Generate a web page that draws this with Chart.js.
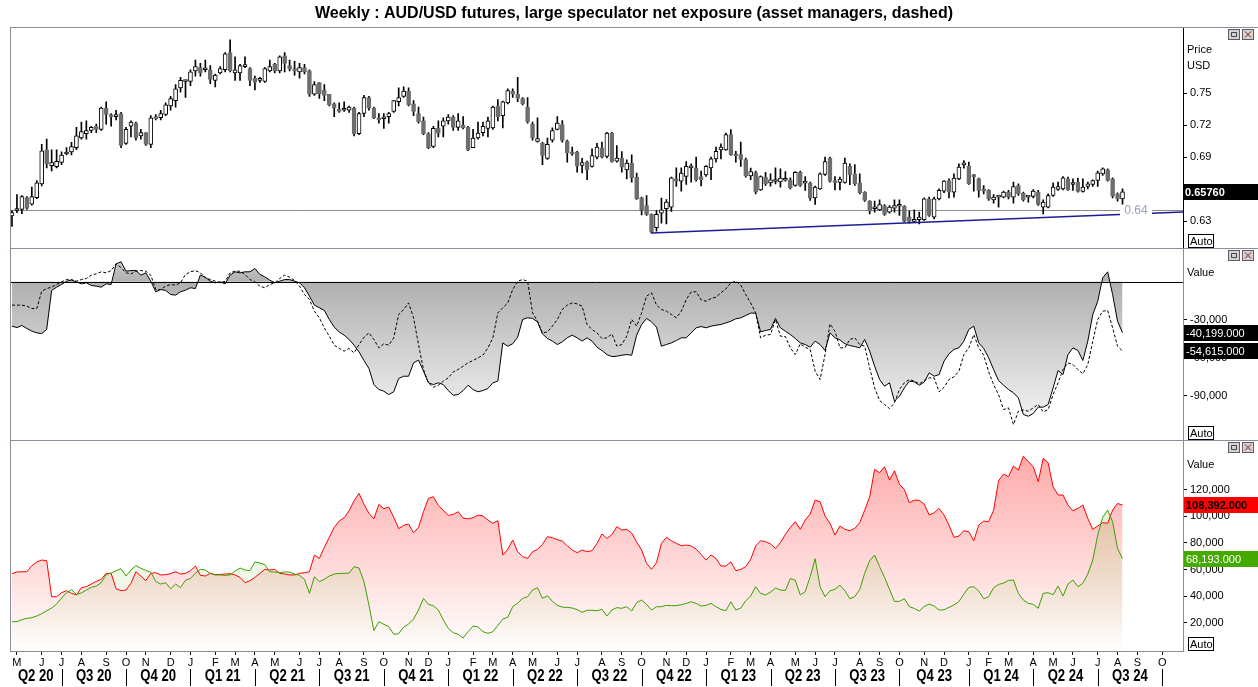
<!DOCTYPE html>
<html>
<head>
<meta charset="utf-8">
<title>AUD/USD weekly - speculator exposure</title>
<script src="https://cdn.jsdelivr.net/npm/chart.js@4.4.1/dist/chart.umd.min.js"></script>
<style>
  html, body { margin: 0; padding: 0; background: #fff; }
  #wrap { position: relative; width: 1258px; height: 687px; }
</style>
</head>
<body>
<div id="wrap"><canvas id="chart" width="1258" height="687"></canvas></div>
<script>
// Weekly bars, first bar = week of 20 Apr 2020, last = week of 5 Aug 2024.
const priceOpen = [
  0.635, 0.640, 0.641, 0.652, 0.646, 0.652, 0.665, 0.697, 0.682, 0.681, 0.685, 0.693, 0.695, 0.699, 0.708,
  0.712, 0.715, 0.719, 0.716, 0.736, 0.729, 0.728, 0.731, 0.703, 0.719, 0.722, 0.710, 0.713, 0.702, 0.728,
  0.727, 0.730, 0.738, 0.743, 0.755, 0.761, 0.761, 0.771, 0.774, 0.772, 0.772, 0.762, 0.769, 0.772, 0.788,
  0.769, 0.769, 0.775, 0.773, 0.764, 0.762, 0.761, 0.771, 0.777, 0.771, 0.785, 0.776, 0.773, 0.770, 0.774,
  0.771, 0.749, 0.760, 0.753, 0.749, 0.740, 0.735, 0.734, 0.734, 0.736, 0.712, 0.731, 0.746, 0.736, 0.727,
  0.726, 0.728, 0.733, 0.742, 0.747, 0.752, 0.740, 0.731, 0.724, 0.712, 0.700, 0.717, 0.719, 0.724, 0.7275,
  0.718, 0.720, 0.718, 0.699, 0.708, 0.713, 0.717, 0.7175, 0.738, 0.729, 0.741, 0.752, 0.749, 0.745, 0.737,
  0.721, 0.7047, 0.703, 0.6888, 0.706, 0.716, 0.7206, 0.705, 0.6944, 0.6947, 0.6822, 0.6853, 0.6813, 0.690, 0.6988,
  0.6906, 0.7125, 0.6863, 0.6891, 0.6781, 0.6844, 0.6713, 0.6519, 0.6447, 0.6363, 0.6238, 0.6375, 0.6416, 0.6431, 0.6697,
  0.6675, 0.6719, 0.680, 0.6797, 0.6719, 0.6734, 0.680, 0.6884, 0.6969, 0.6969, 0.7113, 0.6931, 0.6925, 0.6878, 0.6725,
  0.6756, 0.6594, 0.6713, 0.6659, 0.6672, 0.6669, 0.6684, 0.6688, 0.6634, 0.6759, 0.6656, 0.6656, 0.6519, 0.6603, 0.6738,
  0.6891, 0.6681, 0.6663, 0.6663, 0.6813, 0.6744, 0.6659, 0.6572, 0.6488, 0.6416, 0.6406, 0.6447, 0.6384, 0.6422, 0.644,
  0.6438, 0.6338, 0.6297, 0.6313, 0.6313, 0.6509, 0.6338, 0.6509, 0.6581, 0.6681, 0.6572, 0.6697, 0.6828, 0.6813, 0.6722,
  0.6697, 0.6603, 0.6588, 0.650, 0.6525, 0.6525, 0.6572, 0.6525, 0.6634, 0.6563, 0.6525, 0.6531, 0.6572, 0.6431, 0.6431,
  0.6541, 0.6597, 0.6603, 0.6697, 0.6644, 0.6666, 0.6578, 0.6625, 0.6644, 0.6681, 0.6744, 0.6781, 0.6697, 0.6556, 0.6509
];
const priceHigh = [
  0.640, 0.655, 0.654, 0.653, 0.662, 0.668, 0.702, 0.707, 0.697, 0.697, 0.695, 0.699, 0.704, 0.718, 0.723,
  0.724, 0.719, 0.721, 0.737, 0.742, 0.731, 0.734, 0.732, 0.718, 0.724, 0.723, 0.716, 0.713, 0.729, 0.730,
  0.734, 0.741, 0.747, 0.758, 0.765, 0.762, 0.772, 0.781, 0.778, 0.781, 0.776, 0.768, 0.775, 0.788, 0.800,
  0.784, 0.777, 0.784, 0.774, 0.766, 0.765, 0.774, 0.781, 0.778, 0.785, 0.788, 0.781, 0.780, 0.778, 0.777,
  0.772, 0.761, 0.760, 0.758, 0.749, 0.741, 0.741, 0.742, 0.738, 0.737, 0.732, 0.748, 0.747, 0.737, 0.731,
  0.731, 0.732, 0.743, 0.755, 0.756, 0.755, 0.743, 0.737, 0.7275, 0.713, 0.719, 0.724, 0.727, 0.730, 0.729,
  0.731, 0.728, 0.719, 0.716, 0.723, 0.723, 0.7275, 0.738, 0.744, 0.7425, 0.754, 0.754, 0.765, 0.746, 0.746,
  0.723, 0.727, 0.704, 0.708, 0.7175, 0.728, 0.7244, 0.706, 0.6994, 0.6956, 0.689, 0.6863, 0.6978, 0.7031, 0.7041,
  0.7134, 0.7134, 0.7009, 0.6953, 0.6875, 0.6922, 0.675, 0.6525, 0.6541, 0.6369, 0.640, 0.6516, 0.6503, 0.6713, 0.680,
  0.680, 0.6859, 0.6838, 0.690, 0.6769, 0.6822, 0.690, 0.6994, 0.7025, 0.7125, 0.7159, 0.6956, 0.7041, 0.6891, 0.6797,
  0.6769, 0.6725, 0.6759, 0.6744, 0.680, 0.6791, 0.6766, 0.6706, 0.6766, 0.6769, 0.6719, 0.6666, 0.6628, 0.6753, 0.690,
  0.690, 0.6719, 0.6713, 0.6891, 0.6838, 0.6831, 0.6744, 0.6578, 0.6494, 0.6488, 0.650, 0.6456, 0.6447, 0.650, 0.650,
  0.6447, 0.6394, 0.6406, 0.6384, 0.6519, 0.6525, 0.6525, 0.6603, 0.6681, 0.6697, 0.6744, 0.6838, 0.6869, 0.6853, 0.6738,
  0.6703, 0.6634, 0.6597, 0.655, 0.6541, 0.6581, 0.6588, 0.6666, 0.665, 0.6572, 0.6541, 0.6597, 0.6588, 0.650, 0.6556,
  0.6659, 0.6666, 0.6719, 0.6713, 0.6697, 0.6703, 0.6697, 0.6666, 0.6688, 0.6769, 0.680, 0.6791, 0.6706, 0.6566, 0.6603
];
const priceLow = [
  0.625, 0.638, 0.637, 0.641, 0.645, 0.651, 0.663, 0.680, 0.677, 0.680, 0.683, 0.692, 0.692, 0.697, 0.707,
  0.707, 0.713, 0.713, 0.715, 0.721, 0.719, 0.725, 0.699, 0.702, 0.709, 0.706, 0.707, 0.701, 0.699, 0.725,
  0.725, 0.729, 0.734, 0.737, 0.751, 0.746, 0.757, 0.766, 0.766, 0.770, 0.759, 0.756, 0.768, 0.770, 0.770,
  0.762, 0.762, 0.774, 0.757, 0.753, 0.760, 0.760, 0.770, 0.769, 0.769, 0.770, 0.771, 0.767, 0.764, 0.768,
  0.747, 0.748, 0.745, 0.743, 0.738, 0.728, 0.732, 0.733, 0.732, 0.710, 0.711, 0.728, 0.734, 0.726, 0.722,
  0.717, 0.722, 0.732, 0.738, 0.746, 0.738, 0.729, 0.722, 0.711, 0.698, 0.699, 0.709, 0.709, 0.721, 0.715,
  0.715, 0.7165, 0.696, 0.6988, 0.707, 0.710, 0.709, 0.716, 0.724, 0.7175, 0.740, 0.746, 0.742, 0.739, 0.722,
  0.706, 0.704, 0.683, 0.6878, 0.704, 0.7156, 0.704, 0.6853, 0.6916, 0.676, 0.6753, 0.6688, 0.6806, 0.6884, 0.6894,
  0.6894, 0.6853, 0.6853, 0.676, 0.6697, 0.6666, 0.6503, 0.6359, 0.6353, 0.6188, 0.6206, 0.6281, 0.6275, 0.6391, 0.6625,
  0.6581, 0.6644, 0.6666, 0.6675, 0.6631, 0.6719, 0.6688, 0.6853, 0.6884, 0.6963, 0.6916, 0.6853, 0.6813, 0.6713, 0.6688,
  0.6556, 0.6588, 0.6634, 0.6628, 0.665, 0.6619, 0.6675, 0.6603, 0.6628, 0.6625, 0.6588, 0.6494, 0.6456, 0.6597, 0.6728,
  0.6666, 0.6594, 0.6594, 0.6656, 0.6641, 0.6634, 0.6556, 0.6484, 0.6369, 0.6384, 0.640, 0.6353, 0.6375, 0.6384, 0.6353,
  0.6291, 0.6281, 0.6291, 0.6275, 0.6306, 0.6344, 0.6322, 0.650, 0.6566, 0.6519, 0.6525, 0.6688, 0.6797, 0.6644, 0.6581,
  0.6525, 0.6556, 0.6494, 0.6469, 0.6431, 0.6519, 0.6509, 0.6469, 0.6541, 0.6488, 0.6478, 0.6519, 0.6447, 0.6369, 0.6425,
  0.6531, 0.6588, 0.6594, 0.6588, 0.6588, 0.6572, 0.6572, 0.6603, 0.6625, 0.6625, 0.6728, 0.6675, 0.6519, 0.6488, 0.6353
];
const priceClose = [
  0.638, 0.641, 0.653, 0.642, 0.653, 0.666, 0.696, 0.684, 0.685, 0.686, 0.692, 0.694, 0.700, 0.710, 0.714,
  0.715, 0.718, 0.716, 0.736, 0.730, 0.728, 0.730, 0.701, 0.716, 0.723, 0.708, 0.713, 0.702, 0.727, 0.726,
  0.731, 0.739, 0.745, 0.754, 0.762, 0.7615, 0.770, 0.775, 0.769, 0.7725, 0.763, 0.767, 0.773, 0.787, 0.771,
  0.772, 0.776, 0.7755, 0.762, 0.760, 0.763, 0.773, 0.775, 0.771, 0.784, 0.778, 0.773, 0.771, 0.774, 0.770,
  0.749, 0.758, 0.749, 0.748, 0.739, 0.736, 0.733, 0.7345, 0.737, 0.712, 0.731, 0.746, 0.736, 0.727, 0.725,
  0.7275, 0.731, 0.743, 0.746, 0.752, 0.739, 0.733, 0.723, 0.712, 0.699, 0.717, 0.7125, 0.724, 0.7275, 0.718,
  0.724, 0.7175, 0.697, 0.708, 0.7125, 0.719, 0.724, 0.737, 0.728, 0.742, 0.7525, 0.749, 0.745, 0.740, 0.723,
  0.708, 0.7075, 0.6916, 0.702, 0.715, 0.722, 0.7056, 0.694, 0.6931, 0.6816, 0.685, 0.6781, 0.6916, 0.6994, 0.690,
  0.7125, 0.6859, 0.6891, 0.6806, 0.6844, 0.6706, 0.6509, 0.640, 0.6363, 0.6197, 0.6363, 0.6406, 0.6478, 0.6706, 0.6675,
  0.675, 0.6813, 0.6805, 0.6688, 0.6688, 0.6813, 0.6884, 0.6956, 0.6994, 0.7113, 0.6922, 0.6913, 0.6878, 0.6725, 0.6766,
  0.6572, 0.6719, 0.665, 0.6688, 0.6677, 0.6703, 0.6688, 0.6613, 0.6759, 0.6634, 0.6661, 0.6516, 0.6619, 0.6744, 0.6859,
  0.6675, 0.6659, 0.6694, 0.6844, 0.6734, 0.665, 0.6566, 0.6494, 0.6394, 0.6421, 0.6456, 0.6363, 0.6431, 0.6447, 0.6445,
  0.6297, 0.6297, 0.6316, 0.6338, 0.6509, 0.6353, 0.6509, 0.6588, 0.6675, 0.6572, 0.6703, 0.6806, 0.6832, 0.665, 0.6718,
  0.6588, 0.6581, 0.6509, 0.6525, 0.653, 0.6572, 0.6525, 0.6625, 0.6556, 0.650, 0.653, 0.6581, 0.6456, 0.6478, 0.6541,
  0.6619, 0.6625, 0.6706, 0.6594, 0.6649, 0.6578, 0.6619, 0.665, 0.6681, 0.6753, 0.6791, 0.6681, 0.6534, 0.6509, 0.6576
];

// Net exposure, thousands of contracts
const netLargeSpec = [
  -35.0, -36.1, -34.5, -36.8, -38.9, -40.3, -40.8, -37.6, -6.8, -4.2, -2.1, 0.5, 1.3, 0, -1.6,
  -0.8, -2.9, -3.4, -4.2, -1.6, -2.1, 14.2, 15.8, 8.4, 8.9, 8.9, 5.3, 7.1, 0.5, -7.9,
  -6.1, -6.8, -10.0, -10.5, -7.9, -6.6, -4.7, -5.3, 5.3, 3.7, 0.5, -0.8, 0, -1.6, 5.3,
  7.9, 7.1, 7.9, 7.9, 10.5, 5.8, 3.9, 1.3, -0.8, 0.5, 1.8, 1.8, 0.5, -0.8, -4.7,
  -11.3, -18.4, -20.5, -22.6, -29.7, -35.8, -39.5, -42.1, -45.5, -50.0, -55.3, -62.1, -68.4, -81.1, -85.0,
  -86.3, -89.0, -86.8, -76.3, -74.5, -74.5, -63.9, -61.8, -70.5, -79.7, -81.1, -79.7, -81.1, -85.8, -89.5,
  -89.0, -85.8, -81.6, -85.0, -86.8, -85.8, -84.2, -79.7, -78.4, -48.2, -50.8, -48.9, -43.7, -29.7, -28.4,
  -28.9, -31.6, -41.1, -44.7, -46.8, -49.5, -47.4, -44.2, -42.1, -44.2, -46.8, -44.2, -46.8, -51.6, -54.2,
  -57.4, -59.0, -58.7, -57.9, -57.4, -57.9, -42.1, -33.7, -28.9, -31.6, -35.8, -50.8, -49.5, -48.2, -46.3,
  -44.2, -44.2, -40.3, -36.3, -35.3, -36.3, -35.0, -34.2, -33.7, -32.4, -31.1, -29.2, -28.4, -26.6, -24.7,
  -24.7, -39.5, -38.4, -37.6, -28.9, -36.3, -39.0, -41.6, -44.7, -48.2, -49.5, -51.6, -46.8, -49.5, -54.2,
  -40.3, -44.2, -45.8, -48.9, -50.3, -51.1, -52.1, -45.5, -54.7, -66.6, -77.1, -82.4, -79.7, -94.2, -90.3,
  -83.7, -78.4, -78.9, -81.6, -79.2, -71.8, -74.5, -73.2, -62.6, -56.8, -53.4, -52.1, -46.8, -37.6, -35.0,
  -48.2, -52.6, -60.0, -69.2, -77.9, -81.6, -85.0, -87.6, -91.6, -104.7, -106.1, -103.9, -98.9, -98.9, -96.8,
  -83.7, -70.0, -73.2, -57.4, -52.1, -54.2, -62.1, -46.8, -25.8, -15.3, 3.2, 7.9, -10.0, -31.1, -40.199
];
const netAssetMgr = [
  -18.4, -18.4, -18.4, -19.2, -21.1, -21.1, -7.4, -5.3, -4.2, -2.1, 0, 1.8, 1.8, 0.5, 1.8,
  2.6, 5.3, 6.3, 7.9, 7.1, 8.9, 14.2, 11.1, 7.1, 6.3, 8.4, 8.9, 8.4, 5.3, -6.1,
  -6.1, -3.4, -2.1, -2.6, -0.8, 5.8, 7.9, 8.9, 7.1, 3.2, 1.8, 0.5, -0.8, 0.5, 7.1,
  8.4, 8.4, 5.8, 1.8, 0, -3.4, -4.7, -2.1, -0.8, 2.6, 5.3, 3.7, 1.1, -3.4, -10.0,
  -13.9, -23.2, -28.4, -36.3, -42.9, -50.0, -52.6, -54.7, -52.6, -56.1, -49.5, -43.7, -40.3, -45.5, -52.1,
  -48.9, -50.0, -44.2, -25.8, -21.8, -16.6, -28.4, -49.5, -69.2, -79.7, -83.2, -81.6, -78.4, -75.8, -71.1,
  -69.2, -66.6, -63.9, -62.1, -60.0, -57.9, -52.1, -44.2, -24.5, -20.5, -16.6, -6.1, 0.5, 1.8, 0.5,
  -24.5, -31.1, -40.3, -39.5, -35.0, -29.7, -21.8, -18.4, -16.6, -17.4, -19.2, -33.7, -37.6, -40.3, -44.7,
  -44.2, -41.1, -50.8, -49.5, -42.9, -29.7, -35.0, -24.5, -11.3, -8.7, -18.4, -21.8, -23.2, -25.8, -28.4,
  -23.2, -14.0, -7.9, -7.9, -14.2, -15.3, -13.2, -12.1, -8.7, -5.5, -0.8, 0.5, -2.6, -10.0, -16.6,
  -24.5, -44.2, -42.1, -41.6, -29.7, -42.9, -43.2, -52.1, -57.4, -48.9, -51.6, -53.4, -70.5, -77.1, -57.4,
  -33.2, -39.0, -52.1, -52.1, -45.5, -44.2, -49.5, -50.8, -67.9, -83.7, -93.7, -96.8, -100.0, -95.5, -85.0,
  -79.7, -77.1, -78.4, -80.5, -77.9, -75.8, -75.8, -86.8, -83.2, -77.1, -75.0, -70.5, -57.4, -52.1, -41.6,
  -52.1, -57.9, -71.1, -81.1, -89.0, -100.8, -99.5, -112.6, -102.1, -101.1, -102.1, -99.5, -96.8, -102.6, -100.8,
  -89.0, -79.7, -69.2, -64.0, -65.3, -69.2, -72.6, -65.3, -46.8, -29.7, -23.2, -22.6, -36.3, -50.8, -54.615
];

// Large speculator positions, thousands of contracts
const shortPositions = [
  57.0, 58.2, 58.4, 58.4, 62.9, 65.7, 67.2, 66.7, 39.7, 39.7, 42.7, 44.2, 42.2, 41.0, 46.5,
  47.2, 49.2, 51.2, 52.7, 57.2, 57.2, 45.7, 44.2, 44.7, 49.7, 58.4, 55.2, 51.7, 57.2, 57.7,
  56.0, 56.2, 57.0, 58.4, 56.7, 57.2, 59.2, 62.7, 55.7, 55.2, 57.2, 56.2, 56.4, 56.7, 57.0,
  56.0, 54.2, 50.2, 51.7, 54.2, 57.2, 60.2, 59.7, 60.2, 57.2, 56.7, 56.0, 56.0, 57.2, 57.7,
  58.4, 70.9, 68.4, 76.7, 84.2, 91.7, 96.4, 98.9, 104.1, 111.6, 117.1, 109.1, 102.1, 98.1, 108.9,
  105.6, 106.9, 99.2, 90.7, 93.2, 94.2, 87.6, 91.7, 103.4, 113.4, 114.6, 108.1, 104.4, 100.6, 101.4,
  103.4, 98.6, 98.1, 98.9, 100.9, 100.2, 97.2, 94.7, 96.7, 70.9, 75.2, 82.2, 73.4, 69.7, 68.4,
  73.4, 75.2, 78.9, 84.7, 83.9, 82.4, 81.4, 77.9, 74.7, 72.7, 74.7, 73.4, 74.2, 79.6, 86.7,
  83.4, 86.2, 92.2, 89.7, 90.2, 87.4, 80.7, 74.7, 64.7, 60.2, 65.2, 79.7, 84.2, 81.7, 79.7,
  77.9, 78.4, 77.7, 75.4, 71.4, 67.2, 70.9, 68.4, 62.7, 62.7, 65.9, 59.2, 60.2, 62.2, 67.7,
  77.7, 81.7, 80.9, 79.2, 75.9, 80.2, 86.4, 91.7, 95.9, 90.2, 97.2, 101.7, 112.1, 110.9, 100.1,
  94.7, 85.9, 92.7, 90.2, 89.2, 90.9, 95.2, 104.6, 114.6, 135.1, 132.6, 137.1, 127.1, 134.1, 123.9,
  120.1, 110.1, 112.1, 111.9, 109.1, 100.9, 102.6, 105.9, 100.9, 93.4, 84.2, 85.2, 89.2, 88.4, 81.7,
  93.4, 96.4, 95.9, 104.6, 126.6, 131.6, 129.6, 137.6, 134.6, 145.1, 140.9, 137.1, 125.9, 143.4, 140.1,
  122.1, 115.9, 115.9, 108.4, 104.1, 105.9, 108.4, 98.4, 90.2, 92.7, 95.2, 94.7, 104.6, 109.6, 108.392
];
const longPositions = [
  21.0, 21.0, 22.5, 23.5, 24.0, 25.2, 27.0, 29.2, 31.2, 34.2, 38.7, 42.7, 44.9, 41.5, 42.5,
  44.7, 46.7, 47.7, 50.2, 56.2, 57.4, 59.2, 60.7, 55.2, 59.7, 63.0, 61.0, 59.4, 58.0, 51.1,
  49.2, 50.2, 45.7, 49.2, 46.5, 52.0, 53.5, 57.2, 60.2, 59.7, 57.2, 56.0, 56.0, 55.7, 56.0,
  59.0, 61.2, 59.7, 59.2, 65.7, 65.0, 63.7, 58.4, 58.2, 57.7, 58.2, 58.2, 56.7, 55.7, 52.7,
  42.2, 54.7, 51.0, 52.7, 55.2, 56.7, 57.2, 57.2, 57.4, 62.2, 61.2, 50.9, 33.5, 14.3, 21.0,
  19.0, 17.3, 11.5, 12.0, 17.0, 19.2, 23.0, 29.7, 38.4, 34.0, 32.9, 29.7, 22.3, 16.0, 12.7,
  11.5, 8.8, 13.5, 17.7, 17.0, 13.5, 12.2, 13.5, 18.2, 22.9, 24.4, 32.2, 34.9, 38.4, 39.7,
  44.7, 46.4, 38.4, 40.4, 36.2, 33.2, 31.9, 31.7, 31.2, 30.0, 28.0, 29.5, 29.5, 29.2, 30.2,
  25.2, 29.7, 31.5, 31.0, 32.2, 29.0, 35.2, 37.2, 34.0, 29.7, 32.2, 32.2, 33.2, 33.0, 33.0,
  33.7, 34.7, 35.9, 34.7, 32.7, 33.2, 34.7, 32.2, 30.2, 29.2, 35.9, 29.7, 31.2, 36.7, 40.2,
  47.2, 42.2, 41.0, 43.2, 46.2, 44.7, 44.4, 53.4, 52.0, 41.0, 43.5, 54.7, 68.2, 47.2, 39.7,
  44.2, 45.2, 48.4, 44.2, 38.2, 39.7, 45.2, 57.2, 66.7, 70.9, 62.2, 54.2, 45.2, 36.2, 36.2,
  38.2, 32.2, 30.9, 29.0, 32.4, 34.2, 32.7, 29.7, 29.9, 31.7, 33.5, 36.0, 41.7, 46.7, 47.2,
  44.0, 38.2, 39.7, 46.4, 48.9, 49.9, 51.9, 52.2, 42.2, 37.2, 34.7, 34.0, 31.0, 42.2, 42.7,
  41.2, 47.7, 40.2, 49.2, 52.2, 47.2, 49.7, 56.7, 67.2, 85.9, 99.2, 104.6, 95.9, 75.9, 68.193
];

// support trend line (week index, price) and horizontal level
const trendWeeks = [129, 236.2];
const trendPrices = [0.6188, 0.6385];
const supportLevel = 0.64;

const monthLabels = [
  'M', 'J', 'J', 'A', 'S', 'O', 'N', 'D',
  'J', 'F', 'M', 'A', 'M', 'J', 'J', 'A', 'S', 'O', 'N', 'D',
  'J', 'F', 'M', 'A', 'M', 'J', 'J', 'A', 'S', 'O', 'N', 'D',
  'J', 'F', 'M', 'A', 'M', 'J', 'J', 'A', 'S', 'O', 'N', 'D',
  'J', 'F', 'M', 'A', 'M', 'J', 'J', 'A', 'S', 'O'
];
const quarterLabels = [
  'Q2 20', 'Q3 20', 'Q4 20', 'Q1 21', 'Q2 21', 'Q3 21', 'Q4 21', 'Q1 22', 'Q2 22',
  'Q3 22', 'Q4 22', 'Q1 23', 'Q2 23', 'Q3 23', 'Q4 23', 'Q1 24', 'Q2 24', 'Q3 24'
];
const priceTicks = [0.63, 0.66, 0.69, 0.72, 0.75];
const netTicks = [-30, -60, -90];
const positionTicks = [20, 40, 60, 80, 100, 120];

// ---- layout helpers ----
const SANS = "'Liberation Sans', Arial, sans-serif";
const FRAME = '#8c8c98';
const X_MIN = -0.4, X_MAX = 236.2;

const FIRST_WEEK = Date.UTC(2020, 3, 20);
function weekOf(year, month) {
  const days = (Date.UTC(year, month, 1) - FIRST_WEEK) / 86400000;
  return Math.floor(days / 7);
}
// month k counts from May 2020
const monthTicks = monthLabels.map((_, k) => weekOf(2020 + Math.floor((4 + k) / 12), (4 + k) % 12));
const monthLabelAt = new Map(monthTicks.map((w, k) => [w, monthLabels[k]]));
const quarterBounds = quarterLabels.concat(['end']).map((_, q) =>
  weekOf(2020 + Math.floor((3 + 3 * q) / 12), (3 + 3 * q) % 12));

const thousands = v => (v * 1000).toLocaleString('en-US');
const isUp = i => priceClose[i] >= priceOpen[i];
const xy = arr => arr.map((v, i) => ({ x: i, y: v }));

function paneGradient(chart, scaleId, stops) {
  const s = chart.scales[scaleId];
  if (!chart.chartArea || !s) return 'rgba(0,0,0,0)';
  const g = chart.ctx.createLinearGradient(0, s.top, 0, s.bottom);
  stops(s).forEach(([at, color]) => g.addColorStop(Math.min(1, Math.max(0, at)), color));
  return g;
}

function valueTag(ctx, left, y, text, bg, fg, bold) {
  ctx.fillStyle = bg;
  ctx.fillRect(left, Math.round(y) - 8, 1258 - left, 16);
  ctx.fillStyle = fg;
  ctx.font = (bold ? 'bold ' : '') + '11px ' + SANS;
  ctx.textAlign = 'left';
  ctx.textBaseline = 'middle';
  ctx.fillText(text, left + 2, Math.round(y) + 0.5);
}

// narrow-looking text: squeeze horizontally around the anchor
function narrowText(ctx, text, x, y, squeeze) {
  ctx.save();
  ctx.translate(x, y);
  ctx.scale(squeeze, 1);
  ctx.fillText(text, 0, 0);
  ctx.restore();
}

function paneButtons(ctx, x, y) {
  ctx.save();
  ctx.lineWidth = 1;
  [0, 14].forEach((dx, n) => {
    ctx.fillStyle = '#d6d3ce';
    ctx.fillRect(x + dx, y, 12, 11);
    ctx.strokeStyle = '#5a5a6a';
    ctx.strokeRect(x + dx + 0.5, y + 0.5, 11, 10);
    ctx.strokeStyle = n ? '#7a2020' : '#404050';
    ctx.beginPath();
    if (n) {
      ctx.moveTo(x + dx + 3, y + 2.5); ctx.lineTo(x + dx + 9, y + 8.5);
      ctx.moveTo(x + dx + 9, y + 2.5); ctx.lineTo(x + dx + 3, y + 8.5);
    } else {
      ctx.rect(x + dx + 3.5, y + 3.5, 5, 4);
    }
    ctx.stroke();
  });
  ctx.restore();
}

function autoBox(ctx, x, bottom) {
  ctx.fillStyle = '#fff';
  ctx.fillRect(x, bottom - 14, 25, 13);
  ctx.strokeStyle = '#000';
  ctx.strokeRect(x + 0.5, bottom - 13.5, 25, 13);
  ctx.fillStyle = '#000';
  ctx.font = '11px ' + SANS;
  ctx.textAlign = 'left';
  ctx.textBaseline = 'middle';
  ctx.fillText('Auto', x + 2, bottom - 6.5);
}

const paneDecor = {
  id: 'paneDecor',
  beforeDatasetsDraw(chart) {
    const { ctx, chartArea: a, scales } = chart;
    const y = Math.round(scales.yPrice.getPixelForValue(supportLevel)) + 0.5;
    ctx.save();
    ctx.strokeStyle = '#8a8a8a';
    ctx.lineWidth = 1;
    ctx.beginPath(); ctx.moveTo(a.left, y); ctx.lineTo(a.right, y); ctx.stroke();
    ctx.restore();
  },
  afterDatasetsDraw(chart) {
    const { ctx, chartArea: a, scales } = chart;
    ctx.save();
    // zero line of the net exposure pane
    const z = Math.round(scales.yNet.getPixelForValue(0)) + 0.5;
    ctx.strokeStyle = '#000';
    ctx.lineWidth = 1;
    ctx.beginPath(); ctx.moveTo(a.left, z); ctx.lineTo(a.right, z); ctx.stroke();
    // level label on the horizontal line
    const ly = scales.yPrice.getPixelForValue(supportLevel);
    ctx.font = '12px ' + SANS;
    ctx.textAlign = 'center';
    ctx.textBaseline = 'middle';
    const lx = a.right - 47;
    ctx.fillStyle = '#fff';
    ctx.fillRect(lx - 16, ly - 6, 32, 12);
    ctx.fillStyle = '#98a2bc';
    ctx.fillText(supportLevel.toFixed(2), lx, ly + 0.5);
    ctx.restore();
  },
  afterDraw(chart) {
    const { ctx, chartArea: a, scales } = chart;
    const W = chart.width;
    const tops = [scales.yPrice.top, scales.yNet.top, scales.yPos.top];
    const bottoms = [scales.yPrice.bottom, scales.yNet.bottom, scales.yPos.bottom];
    ctx.save();
    ctx.lineWidth = 1;
    ctx.strokeStyle = FRAME;
    ctx.beginPath();
    tops.forEach(t => { const y = Math.round(t) + 0.5; ctx.moveTo(a.left, y); ctx.lineTo(W, y); });
    const lx = Math.round(a.left) + 0.5;
    ctx.moveTo(lx, a.top); ctx.lineTo(lx, a.bottom);
    ctx.stroke();

    // right column captions
    ctx.fillStyle = '#000';
    ctx.font = '11px ' + SANS;
    ctx.textAlign = 'left';
    ctx.textBaseline = 'middle';
    ctx.fillText('Price', a.right + 4, tops[0] + 23);
    ctx.fillText('USD', a.right + 4, tops[0] + 39);
    ctx.fillText('Value', a.right + 4, tops[1] + 25);
    ctx.fillText('Value', a.right + 4, tops[2] + 25);
    tops.forEach(t => paneButtons(ctx, a.right + 45, Math.round(t) + 2));
    bottoms.forEach(b => autoBox(ctx, a.right + 5, Math.round(b)));

    // last value tags
    const last = priceClose.length - 1;
    valueTag(ctx, a.right, scales.yPrice.getPixelForValue(priceClose[last]),
      priceClose[last].toFixed(5), '#000', '#fff', true);
    const fmt = v => (v * 1000).toLocaleString('en-US', { minimumFractionDigits: 3, maximumFractionDigits: 3 });
    valueTag(ctx, a.right + 1, scales.yNet.getPixelForValue(netLargeSpec[last]),
      fmt(netLargeSpec[last]), '#000', '#fff', false);
    valueTag(ctx, a.right + 1, scales.yNet.getPixelForValue(netAssetMgr[last]),
      fmt(netAssetMgr[last]), '#000', '#fff', false);
    valueTag(ctx, a.right + 1, scales.yPos.getPixelForValue(shortPositions[last]),
      fmt(shortPositions[last]), '#ff0000', '#000', true);
    valueTag(ctx, a.right + 1, scales.yPos.getPixelForValue(longPositions[last]),
      fmt(longPositions[last]), '#44aa00', '#fff', false);

    // quarter row under the month letters
    const xs = scales.x;
    ctx.font = 'bold 16px ' + SANS;
    ctx.fillStyle = '#000';
    ctx.textAlign = 'center';
    ctx.textBaseline = 'middle';
    ctx.strokeStyle = '#000';
    ctx.beginPath();
    quarterLabels.forEach((label, q) => {
      const x0 = Math.max(xs.getPixelForValue(quarterBounds[q]), a.left);
      const x1 = xs.getPixelForValue(quarterBounds[q + 1]);
      narrowText(ctx, label, (x0 + x1) / 2, 677, 0.82);
      const sx = Math.round(x1) + 0.5;
      ctx.moveTo(sx, 669); ctx.lineTo(sx, 686);
    });
    ctx.stroke();
    ctx.restore();
  }
};

const ctx = document.getElementById('chart').getContext('2d');
Chart.defaults.font.family = SANS;
Chart.defaults.font.size = 11;
Chart.defaults.color = '#000';

new Chart(ctx, {
  type: 'line',
  data: {
    datasets: [
      {
        type: 'bar',
        label: 'AUD/USD',
        xAxisID: 'x', yAxisID: 'yPrice',
        data: priceOpen.map((o, i) => ({ x: i, y: [o, priceClose[i]] })),
        backgroundColor: c => isUp(c.dataIndex) ? '#ffffff' : '#6e6e6e',
        borderColor: c => isUp(c.dataIndex) ? '#000000' : '#6e6e6e',
        borderWidth: 1,
        borderSkipped: false,
        barThickness: 4,
        minBarLength: 2,
        grouped: false,
        order: 1,
      },
      {
        type: 'bar',
        label: 'AUD/USD range',
        xAxisID: 'x', yAxisID: 'yPrice',
        data: priceLow.map((l, i) => ({ x: i, y: [l, priceHigh[i]] })),
        backgroundColor: '#000',
        borderWidth: 0,
        barThickness: 1,
        grouped: false,
        order: 2,
      },
      {
        label: 'Trend',
        xAxisID: 'x', yAxisID: 'yPrice',
        data: trendWeeks.map((w, i) => ({ x: w, y: trendPrices[i] })),
        borderColor: '#1c1c98',
        borderWidth: 1.5,
        pointRadius: 0,
        fill: false,
        order: 0,
      },
      {
        label: 'Large speculators net',
        xAxisID: 'x', yAxisID: 'yNet',
        data: xy(netLargeSpec),
        borderColor: '#000',
        borderWidth: 1,
        pointRadius: 0,
        fill: 'origin',
        backgroundColor: c => paneGradient(c.chart, 'yNet', s => {
          const z = (s.getPixelForValue(0) - s.top) / (s.bottom - s.top);
          return [[0, '#dadada'], [z, '#b0b0b0'], [1, '#fcfcfc']];
        }),
        order: 1,
      },
      {
        label: 'Asset managers net',
        xAxisID: 'x', yAxisID: 'yNet',
        data: xy(netAssetMgr),
        borderColor: '#000',
        borderWidth: 1,
        borderDash: [3, 2],
        pointRadius: 0,
        fill: false,
        order: 0,
      },
      {
        label: 'Short',
        xAxisID: 'x', yAxisID: 'yPos',
        data: xy(shortPositions),
        borderColor: '#ff0000',
        borderWidth: 1,
        pointRadius: 0,
        fill: 'origin',
        backgroundColor: c => paneGradient(c.chart, 'yPos', () =>
          [[0, 'rgba(255,0,0,0.36)'], [1, 'rgba(255,0,0,0.0)']]),
        order: 1,
      },
      {
        label: 'Long',
        xAxisID: 'x', yAxisID: 'yPos',
        data: xy(longPositions),
        borderColor: '#38a000',
        borderWidth: 1,
        pointRadius: 0,
        fill: 'origin',
        backgroundColor: c => paneGradient(c.chart, 'yPos', () =>
          [[0, 'rgba(110,190,40,0.3)'], [1, 'rgba(110,190,40,0.0)']]),
        order: 0,
      },
    ],
  },
  options: {
    responsive: false,
    animation: false,
    devicePixelRatio: 1,
    events: [],
    layout: { padding: { left: 10, right: 0, top: 0, bottom: 0 } },
    plugins: {
      legend: { display: false },
      tooltip: { enabled: false },
      filler: { drawTime: 'beforeDatasetsDraw' },
      title: {
        display: true,
        text: 'Weekly : AUD/USD futures, large speculator net exposure (asset managers, dashed)',
        font: { family: SANS, size: 16, weight: 'bold' },
        color: '#000',
        padding: { top: 4, bottom: 4 },
      },
    },
    scales: {
      x: {
        type: 'linear',
        min: X_MIN, max: X_MAX,
        offset: false,
        grid: { drawOnChartArea: false, drawTicks: true, tickLength: 4, color: '#000', offset: false },
        border: { display: true, color: FRAME },
        ticks: {
          autoSkip: false, maxRotation: 0, padding: 1,
          font: { size: 11 },
          callback: v => monthLabelAt.get(v) || '',
        },
        afterBuildTicks: s => { s.ticks = monthTicks.map(v => ({ value: v })); },
        afterFit: s => { s.height = 36; },
      },
      yPrice: {
        type: 'linear', position: 'right', stack: 'panes', stackWeight: 221,
        min: 0.6047, max: 0.8119,
        grid: { drawOnChartArea: false, tickLength: 4, color: '#000' },
        border: { color: '#000' },
        ticks: { padding: 3, callback: v => v.toFixed(2) },
        afterBuildTicks: s => { s.ticks = priceTicks.map(v => ({ value: v })); },
        afterFit: s => { s.width = 75; },
      },
      yNet: {
        type: 'linear', position: 'right', stack: 'panes', stackWeight: 192,
        min: -124.9, max: 26.6,
        grid: { drawOnChartArea: false, tickLength: 4, color: '#000' },
        border: { color: FRAME },
        ticks: { padding: 3, callback: thousands },
        afterBuildTicks: s => { s.ticks = netTicks.map(v => ({ value: v })); },
        afterFit: s => { s.width = 75; },
      },
      yPos: {
        type: 'linear', position: 'right', stack: 'panes', stackWeight: 211,
        min: -1.0, max: 157.1,
        grid: { drawOnChartArea: false, tickLength: 4, color: '#000' },
        border: { color: FRAME },
        ticks: { padding: 3, callback: thousands },
        afterBuildTicks: s => { s.ticks = positionTicks.map(v => ({ value: v })); },
        afterFit: s => { s.width = 75; },
      },
    },
  },
  plugins: [paneDecor],
});
</script>
</body>
</html>
